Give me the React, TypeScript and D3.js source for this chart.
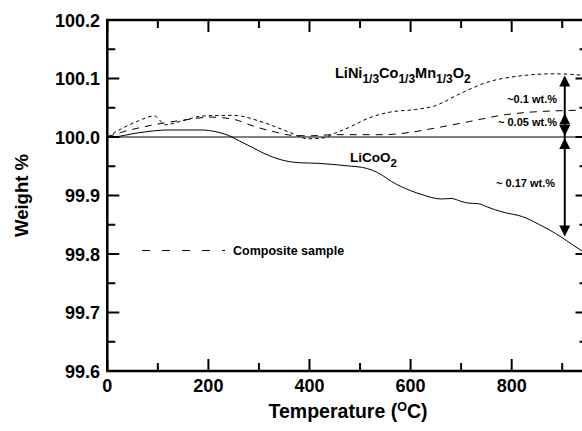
import React from "react";
import * as d3 from "d3";

const W = 582;
const H = 431;

const xTicksMajor = [0, 200, 400, 600, 800];
const xTicksMinor = [100, 300, 500, 700, 900];
const yTicksMajor = [99.6, 99.7, 99.8, 99.9, 100.0, 100.1, 100.2];
const yTicksMinor = [99.65, 99.75, 99.85, 99.95, 100.05, 100.15];

// LiCoO2 (solid)
const licoo2: [number, number][] = [
  [0, 100.0], [8, 100.0], [60, 100.007], [120, 100.012], [186, 100.012], [215, 100.009],
  [239, 100.003], [262, 99.993], [285, 99.983], [310, 99.972], [344, 99.961], [380, 99.956],
  [417, 99.955], [483, 99.95], [505, 99.948], [525, 99.943], [545, 99.934], [562, 99.924],
  [582, 99.915], [621, 99.902], [661, 99.894], [680, 99.895], [700, 99.89], [714, 99.887],
  [734, 99.886], [750, 99.881], [766, 99.876], [790, 99.87], [813, 99.866], [830, 99.861],
  [853, 99.851], [875, 99.841], [898, 99.829], [920, 99.816], [950, 99.799],
];

// LiNi1/3Co1/3Mn1/3O2 (short dash)
const nmc: [number, number][] = [
  [0, 100.0], [30, 100.015], [60, 100.027], [93, 100.036], [115, 100.021], [150, 100.028],
  [190, 100.036], [250, 100.037], [305, 100.026], [358, 100.009], [397, 99.997], [425, 99.998],
  [449, 100.006], [477, 100.016], [516, 100.032], [562, 100.043], [610, 100.047], [647, 100.053],
  [700, 100.075], [753, 100.094], [813, 100.104], [884, 100.108], [950, 100.105],
];

// Composite sample (long dash)
const composite: [number, number][] = [
  [0, 100.0], [28, 100.008], [87, 100.02], [152, 100.029], [206, 100.034], [251, 100.03],
  [291, 100.018], [330, 100.009], [364, 100.003], [400, 100.002], [449, 100.004], [548, 100.004],
  [600, 100.008], [647, 100.015], [714, 100.026], [779, 100.037], [845, 100.043], [898, 100.045],
  [950, 100.046],
];

const arrowT = 905;
const levelTop = 100.105;
const levelMid = 100.04;
const levelBase = 100.0;
const levelLow = 99.83;

const FONT = "'Liberation Sans', Arial, Helvetica, sans-serif";

export default function App() {
  const x = d3.scaleLinear().domain([0, 950]).range([107.3, 587.5]);
  const y = d3.scaleLinear().domain([99.6, 100.2]).range([371, 20]);
  const left = x(0);
  const right = x(950);
  const top = y(100.2);
  const bottom = y(99.6);

  const line = d3
    .line<[number, number]>()
    .x((d) => x(d[0]))
    .y((d) => y(d[1]))
    .curve(d3.curveMonotoneX);

  const ax = x(arrowT);
  const headW = 5.5;
  const headH = 11;
  const upHead = (tipY: number) =>
    `M${ax},${tipY} L${ax - headW},${tipY + headH} L${ax + headW},${tipY + headH} Z`;
  const downHead = (tipY: number) =>
    `M${ax},${tipY} L${ax - headW},${tipY - headH} L${ax + headW},${tipY - headH} Z`;

  return (
    <svg width={W} height={H} style={{ position: "absolute", left: 0, top: 0, background: "#fff" }}>
      <rect x={0} y={0} width={W} height={H} fill="#fff" />
      <defs>
        <clipPath id="plot">
          <rect x={left} y={top} width={right - left} height={bottom - top} />
        </clipPath>
      </defs>

      {/* reference line at 100.0 */}
      <line x1={left} x2={right} y1={y(100.0)} y2={y(100.0)} stroke="#000" strokeWidth={1} />

      <g clipPath="url(#plot)" fill="none" stroke="#000">
        <path d={line(licoo2) || ""} strokeWidth={1} />
        <path d={line(nmc) || ""} strokeWidth={1} strokeDasharray="3.5,3" />
        <path d={line(composite) || ""} strokeWidth={1} strokeDasharray="7,6" />
      </g>

      {/* arrows */}
      <g fill="#000" stroke="none">
        <line x1={ax} x2={ax} y1={y(levelTop) + 4} y2={y(levelLow) - 4} stroke="#000" strokeWidth={2} />
        <path d={upHead(y(levelTop))} />
        <path d={upHead(y(levelMid))} />
        <path d={downHead(y(levelBase) - 1)} />
        <path d={upHead(y(levelBase) + 1)} />
        <path d={downHead(y(levelLow))} />
      </g>

      {/* annotation texts */}
      <g fontFamily={FONT} fontWeight="bold" fontSize={11} textAnchor="end" fill="#000">
        <text x={557} y={103}>~0.1 wt.%</text>
        <text x={557} y={126}>~ 0.05 wt.%</text>
        <text x={555} y={187}>~ 0.17 wt.%</text>
      </g>

      {/* curve labels */}
      <text x={335} y={78} fontFamily={FONT} fontWeight="bold" fontSize={14.5} fill="#000">
        LiNi<tspan fontSize={12} dy={5}>1/3</tspan>
        <tspan dy={-5}>Co</tspan>
        <tspan fontSize={12} dy={5}>1/3</tspan>
        <tspan dy={-5}>Mn</tspan>
        <tspan fontSize={12} dy={5}>1/3</tspan>
        <tspan dy={-5}>O</tspan>
        <tspan fontSize={12} dy={5}>2</tspan>
      </text>
      <text x={350} y={162} fontFamily={FONT} fontWeight="bold" fontSize={13.5} fill="#000">
        LiCoO<tspan fontSize={11.5} dy={5}>2</tspan>
      </text>

      {/* legend */}
      <line x1={142} x2={225} y1={y(99.806)} y2={y(99.806)} stroke="#000" strokeWidth={1} strokeDasharray="8,12" />
      <text x={233} y={y(99.806) + 4.5} fontFamily={FONT} fontWeight="bold" fontSize={12.5} fill="#000">
        Composite sample
      </text>

      {/* ticks */}
      <g stroke="#000" strokeWidth={2}>
        {xTicksMajor.map((t) => (
          <g key={"xM" + t}>
            <line x1={x(t)} x2={x(t)} y1={bottom} y2={bottom - 12} />
            <line x1={x(t)} x2={x(t)} y1={top} y2={top + 12} />
          </g>
        ))}
        {xTicksMinor.map((t) => (
          <g key={"xm" + t}>
            <line x1={x(t)} x2={x(t)} y1={bottom} y2={bottom - 8} />
            <line x1={x(t)} x2={x(t)} y1={top} y2={top + 8} />
          </g>
        ))}
        {yTicksMajor.map((v) => (
          <g key={"yM" + v}>
            <line x1={left} x2={left + 12} y1={y(v)} y2={y(v)} />
            <line x1={right} x2={right - 12} y1={y(v)} y2={y(v)} />
          </g>
        ))}
        {yTicksMinor.map((v) => (
          <g key={"ym" + v}>
            <line x1={left} x2={left + 8} y1={y(v)} y2={y(v)} />
            <line x1={right} x2={right - 8} y1={y(v)} y2={y(v)} />
          </g>
        ))}
      </g>

      {/* frame */}
      <rect x={left} y={top} width={right - left} height={bottom - top} fill="none" stroke="#000" strokeWidth={2.5} />

      {/* tick labels */}
      <g fontFamily={FONT} fontWeight="bold" fontSize={18} fill="#000">
        {yTicksMajor.map((v) => (
          <text key={"yl" + v} x={100} y={y(v) + 6.5} textAnchor="end">
            {v.toFixed(1)}
          </text>
        ))}
        {xTicksMajor.map((t) => (
          <text key={"xl" + t} x={x(t)} y={392} textAnchor="middle">
            {t}
          </text>
        ))}
      </g>

      {/* axis titles */}
      <text x={348} y={418} fontFamily={FONT} fontWeight="bold" fontSize={19.5} textAnchor="middle" fill="#000">
        Temperature (<tspan fontSize={12.5} dy={-7}>O</tspan>
        <tspan dy={7}>C)</tspan>
      </text>
      <text
        transform={`translate(28, ${y(99.9)}) rotate(-90)`}
        fontFamily={FONT}
        fontWeight="bold"
        fontSize={18.5}
        textAnchor="middle"
        fill="#000"
      >
        Weight %
      </text>
    </svg>
  );
}
